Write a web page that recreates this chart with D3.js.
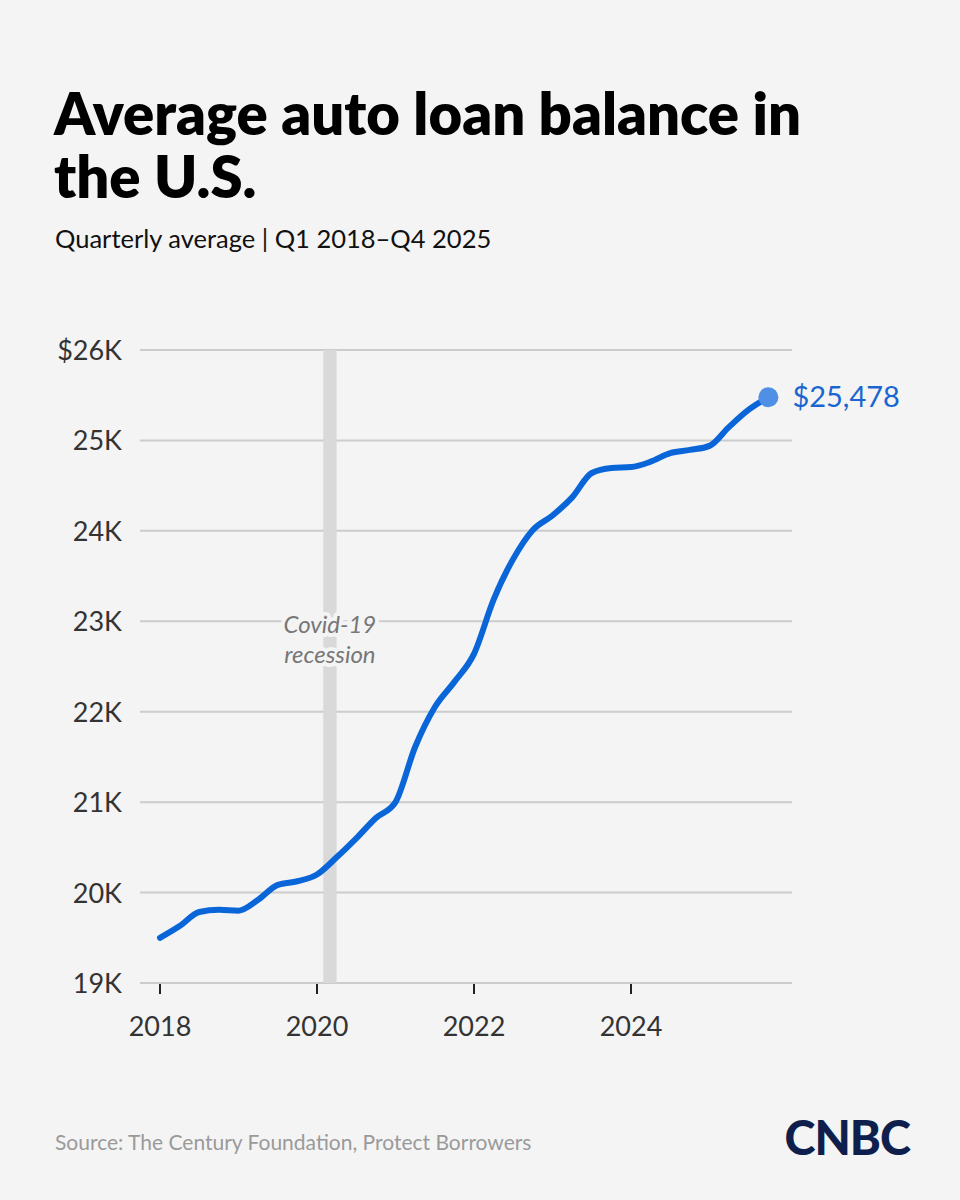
<!DOCTYPE html>
<html>
<head>
<meta charset="utf-8">
<script src="https://cdn.jsdelivr.net/npm/d3@7"></script>
<style>
  html, body { margin: 0; padding: 0; background: #f4f4f4; }
  svg { display: block; }
</style>
</head>
<body>
<div id="chart"></div>
<script>
// quarterly data, Q1 2018 - Q4 2025 (t = year + (quarter-1)/4)
const years = [2018, 2019, 2020, 2021, 2022, 2023, 2024, 2025];
const quarters = [1, 2, 3, 4];
const balances = [
  19500, 19630, 19785, 19810,
  19800, 19920, 20085, 20125,
  20200, 20390, 20600, 20825,
  21000, 21610, 22050, 22330,
  22640, 23240, 23690, 24010,
  24170, 24370, 24640, 24695,
  24705, 24765, 24860, 24895,
  24940, 25150, 25340, 25478
];
const yTicks = [19000, 20000, 21000, 22000, 23000, 24000, 25000, 26000];
const xTicks = [2018, 2020, 2022, 2024];
const recession = [2020.08, 2020.25];

const data = [];
years.forEach((y, i) => quarters.forEach((q, j) => {
  data.push({ t: y + (q - 1) / 4, v: balances[i * 4 + j] });
}));

function init() {
  const W = 960, H = 1200;
  const margin = { top: 350, right: 170, bottom: 217, left: 140 };

  const svg = d3.select("#chart").append("svg")
    .attr("width", W).attr("height", H);

  svg.append("rect").attr("width", W).attr("height", H).attr("fill", "#f4f4f4");

  // title + subtitle
  const title = svg.append("text")
    .attr("x", 54).attr("y", 135)
    .attr("font-family", "Lato, 'Open Sans', sans-serif")
    .attr("font-weight", 800)
    .attr("font-size", 58)
    .attr("fill", "#000");
  title.append("tspan").attr("x", 54).text("Average auto loan balance in");
  title.append("tspan").attr("x", 54).attr("dy", 63).text("the U.S.");

  svg.append("text")
    .attr("x", 55).attr("y", 248)
    .attr("font-family", "Lato, sans-serif")
    .attr("font-size", 25.5)
    .attr("fill", "#111")
    .text("Quarterly average | Q1 2018\u2013Q4 2025");

  const x = d3.scaleLinear()
    .domain([2018, 2026])
    .range([160, 160 + 8 * 78.5]);

  const y = d3.scaleLinear()
    .domain([19000, 26000])
    .range([983, 350]);

  // gridlines
  svg.append("g").selectAll("line")
    .data(yTicks)
    .enter().append("line")
    .attr("x1", margin.left).attr("x2", 792)
    .attr("y1", d => y(d)).attr("y2", d => y(d))
    .attr("stroke", "#cccccc").attr("stroke-width", 2);

  // recession band
  svg.append("rect")
    .attr("x", x(recession[0]))
    .attr("width", x(recession[1]) - x(recession[0]))
    .attr("y", y(26000))
    .attr("height", y(19000) - y(26000))
    .attr("fill", "#d9d9d9");

  // y labels
  svg.append("g").selectAll("text")
    .data(yTicks)
    .enter().append("text")
    .attr("x", 122)
    .attr("y", d => y(d) + 10)
    .attr("text-anchor", "end")
    .attr("font-family", "Lato, sans-serif")
    .attr("font-size", 27)
    .attr("fill", "#333")
    .text(d => (d === 26000 ? "$" : "") + (d / 1000) + "K");

  // x ticks + labels
  const xg = svg.append("g").selectAll("g")
    .data(xTicks)
    .enter().append("g");
  xg.append("line")
    .attr("x1", d => x(d)).attr("x2", d => x(d))
    .attr("y1", 984).attr("y2", 994)
    .attr("stroke", "#222").attr("stroke-width", 2);
  xg.append("text")
    .attr("x", d => x(d)).attr("y", 1036)
    .attr("text-anchor", "middle")
    .attr("font-family", "Lato, sans-serif")
    .attr("font-size", 27)
    .attr("fill", "#333")
    .text(d => d);

  // recession label with background halo
  const rx = x((recession[0] + recession[1]) / 2);
  const note = svg.append("text")
    .attr("x", rx).attr("y", 633)
    .attr("text-anchor", "middle")
    .attr("font-family", "Lato, sans-serif")
    .attr("font-style", "italic")
    .attr("font-size", 24)
    .attr("fill", "#777")
    .attr("stroke", "#f4f4f4").attr("stroke-width", 8)
    .attr("paint-order", "stroke")
    .attr("stroke-linejoin", "round");
  note.append("tspan").attr("x", rx).text("Covid-19");
  note.append("tspan").attr("x", rx).attr("dy", 30).text("recession");

  // line
  const line = d3.line()
    .x(d => x(d.t))
    .y(d => y(d.v))
    .curve(d3.curveMonotoneX);

  svg.append("path")
    .datum(data)
    .attr("fill", "none")
    .attr("stroke", "#0a66d8")
    .attr("stroke-width", 6)
    .attr("stroke-linecap", "round")
    .attr("stroke-linejoin", "round")
    .attr("d", line);

  const last = data[data.length - 1];
  svg.append("circle")
    .attr("cx", x(last.t)).attr("cy", y(last.v))
    .attr("r", 10)
    .attr("fill", "#4f8fe6");

  svg.append("text")
    .attr("x", x(last.t) + 24).attr("y", y(last.v) + 10)
    .attr("font-family", "Lato, sans-serif")
    .attr("font-size", 29)
    .attr("fill", "#1a66d0")
    .text("$" + d3.format(",")(last.v));

  // footer
  svg.append("text")
    .attr("x", 55).attr("y", 1150)
    .attr("font-family", "Lato, sans-serif")
    .attr("font-size", 21)
    .attr("fill", "#9a9a9a")
    .text("Source: The Century Foundation, Protect Borrowers");

  svg.append("text")
    .attr("x", 910).attr("y", 1155)
    .attr("text-anchor", "end")
    .attr("font-family", "Lato, sans-serif")
    .attr("font-weight", 900)
    .attr("font-size", 47)
    .attr("letter-spacing", -1)
    .attr("fill", "#0f1f4d")
    .text("CNBC");
}

window.onload = init;
</script>
</body>
</html>
